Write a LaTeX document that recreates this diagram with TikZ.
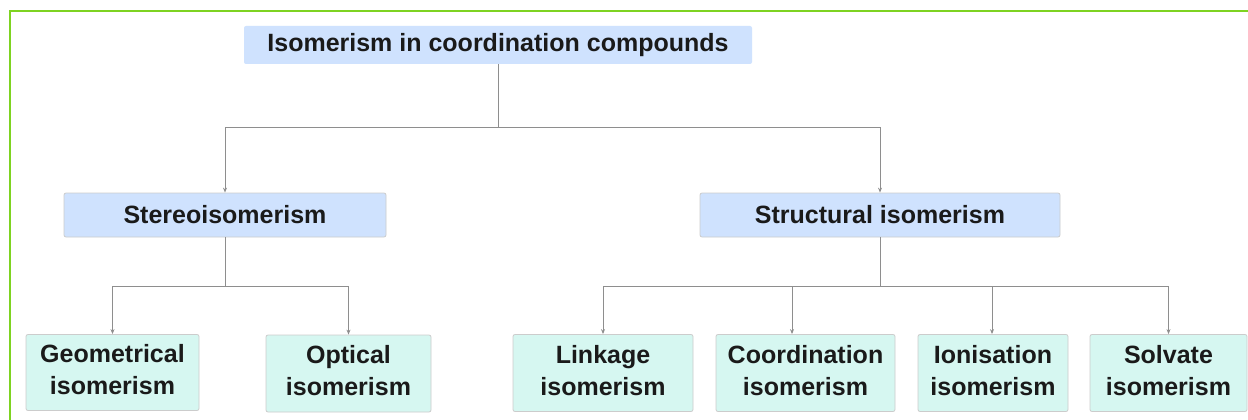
\documentclass[tikz,border=0pt]{standalone}
\usepackage{fontspec}
\setmainfont{Liberation Sans}
\usetikzlibrary{arrows.meta}
\definecolor{framegreen}{HTML}{7ED321}
\definecolor{bluefill}{HTML}{CFE2FE}
\definecolor{tealfill}{HTML}{D6F7F1}
\definecolor{boxline}{HTML}{CCCCCC}
\definecolor{connline}{HTML}{8E8E8E}
\definecolor{txt}{HTML}{1A1A1A}
\tikzset{
  lvlbox/.style={rectangle, rounded corners=2pt, draw=boxline, line width=0.8pt, fill=bluefill, text=txt, inner sep=0pt, font=\fontsize{25}{30}\selectfont\bfseries},
  leafbox/.style={rectangle, rounded corners=2pt, draw=boxline, line width=0.8pt, fill=tealfill, text=txt, inner sep=0pt, align=center, font=\fontsize{25}{32}\selectfont\bfseries},
  conn/.style={draw=connline, line width=1pt},
  arr/.style={conn, -{Stealth[length=5pt,width=4pt]}}
}
\begin{document}
\begin{tikzpicture}[x=1pt,y=-1pt]
\useasboundingbox (0,0) rectangle (1248,420);
\fill[white] (0,0) rectangle (1248,420);
\draw[framegreen, line width=2pt] (10,421) -- (10,11) -- (1249,11);

\node[lvlbox, draw=none, minimum width=508pt, minimum height=38pt] (top) at (498,45) {Isomerism in coordination compounds};
\node[lvlbox, minimum width=322pt, minimum height=44pt] (stereo) at (225,215) {Stereoisomerism};
\node[lvlbox, minimum width=360pt, minimum height=44pt] (struct) at (880,215) {Structural isomerism};

\node[leafbox, minimum width=173pt, minimum height=76pt] (geo) at (112.5,372.5) {Geometrical\\isomerism\\[-26pt]\mbox{}};
\node[leafbox, minimum width=165pt, minimum height=77pt] (opt) at (348.5,373.5) {Optical\\isomerism\\[-26pt]\mbox{}};
\node[leafbox, minimum width=180pt, minimum height=77pt] (link) at (603,373) {Linkage\\isomerism\\[-26pt]\mbox{}};
\node[leafbox, minimum width=179pt, minimum height=77pt] (coord) at (805.5,373) {Coordination\\isomerism\\[-26pt]\mbox{}};
\node[leafbox, minimum width=150pt, minimum height=77pt] (ion) at (993,373) {Ionisation\\isomerism\\[-26pt]\mbox{}};
\node[leafbox, minimum width=157pt, minimum height=77pt] (solv) at (1168.5,373) {Solvate\\isomerism\\[-26pt]\mbox{}};

\coordinate (j1) at (498,127);
\coordinate (j2) at (225,286);
\coordinate (j3) at (880,286);

\draw[conn] (top.south) -- (j1);
\draw[arr] (j1) -| (stereo.north);
\draw[arr] (j1) -| (struct.north);

\draw[conn] (stereo.south) -- (j2);
\draw[arr] (j2) -| (geo.north);
\draw[arr] (j2) -| (opt.north);

\draw[conn] (struct.south) -- (j3);
\draw[arr] (j3) -| (link.north);
\draw[arr] (j3) -| ([xshift=-13.5pt]coord.north);
\draw[arr] (j3) -| ([xshift=-1pt]ion.north);
\draw[arr] (j3) -| (solv.north);
\end{tikzpicture}
\end{document}
